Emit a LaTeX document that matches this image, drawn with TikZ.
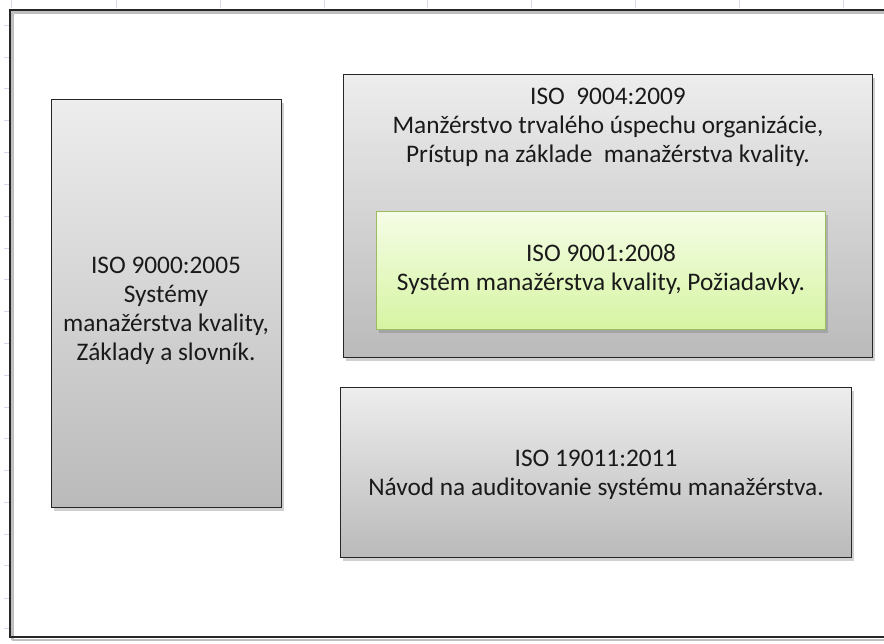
\documentclass[tikz,border=0pt]{standalone}
\usepackage{fontspec}
\setmainfont{Carlito}
\usetikzlibrary{shadows}
\definecolor{gtop}{HTML}{EDEDED}
\definecolor{gbot}{HTML}{BABABA}
\definecolor{ltop}{HTML}{F5FDE6}
\definecolor{lbot}{HTML}{D6F4A2}
\definecolor{lborder}{HTML}{9DBB61}
\definecolor{tick}{HTML}{D4D8E8}
\definecolor{txt}{HTML}{1A1A1A}
\begin{document}
\begin{tikzpicture}[x=1pt,y=-1pt,
  boxshadow/.style={drop shadow={opacity=0.3,shadow xshift=2pt,shadow yshift=-3pt,fill=black!60}},
  graybox/.style={rectangle,draw=black!85,line width=1.3pt,top color=gtop,bottom color=gbot,boxshadow,anchor=north west,inner sep=0pt},
  greenbox/.style={rectangle,draw=lborder,line width=1.2pt,top color=ltop,bottom color=lbot,boxshadow,anchor=north west,inner sep=0pt},
  label/.style={font=\fontsize{25.3}{29}\selectfont,text=txt,align=center,inner sep=0pt},
  tickline/.style={draw=tick,line width=0.7pt}]
\useasboundingbox (0,0) rectangle (884,644);
\fill[white] (0,0) rectangle (884,644);
% spreadsheet grid ticks
\foreach \x in {11,116,220,324,427,531,635,739,843} \draw[tickline] (\x,0) -- (\x,8);
\foreach \y in {25,57,88,120,152,184,216,248,279,311,343,375,407,438,470,502,534,565,598,628} \draw[tickline] (4,\y) -- (9,\y);
% outer frame with shadow
\draw[black!25,line width=2.5pt] (12.5,640) -- (12.5,12.5) -- (884,12.5);
\draw[black!25,line width=2.5pt] (12,640) -- (884,640);
\draw[black!85,line width=2.2pt] (10,638) -- (10,10) -- (884,10);
\draw[black!85,line width=2.2pt] (10,637) -- (884,637);
% boxes
\node[graybox,minimum width=230pt,minimum height=408pt] (b9000) at (51,99) {};
\node[graybox,minimum width=529pt,minimum height=283pt] (b9004) at (343,74) {};
\node[greenbox,minimum width=449pt,minimum height=118pt] (b9001) at (376,211) {};
\node[graybox,minimum width=511pt,minimum height=170pt] (b19011) at (340,387) {};
% texts
\node[label] (t9000) at (166,311) {ISO 9000:2005\\Systémy\\manažérstva kvality,\\Základy a slovník.};
\node[label] (t9004) at (608,127) {ISO\ \ 9004:2009\\Manžérstvo trvalého úspechu organizácie,\\Prístup na základe\ \ manažérstva kvality.};
\node[label] (t9001) at (601,269) {ISO 9001:2008\\Systém manažérstva kvality, Požiadavky.};
\node[label] (t19011) at (596,475) {ISO 19011:2011\\Návod na auditovanie systému manažérstva.};
\end{tikzpicture}
\end{document}
